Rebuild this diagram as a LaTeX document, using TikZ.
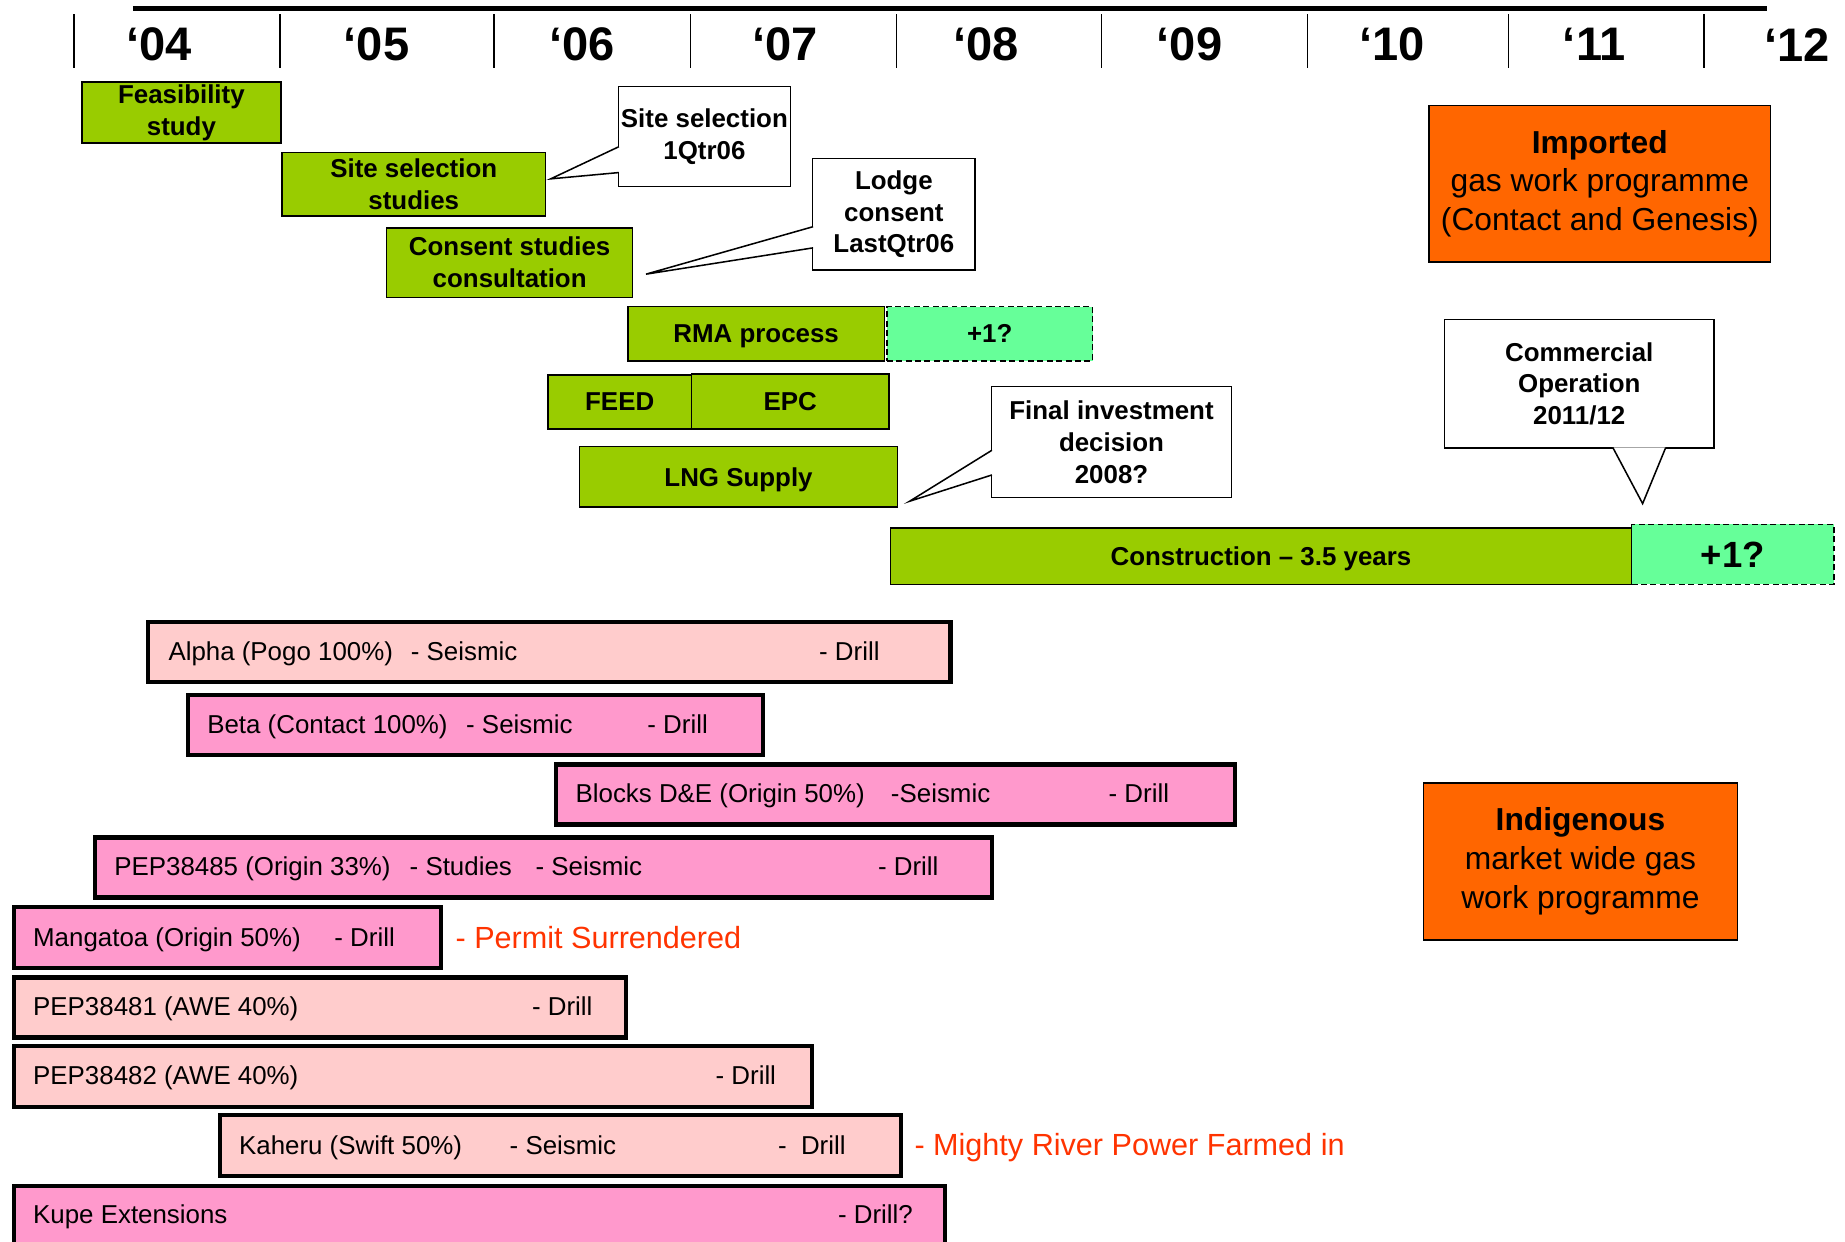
\documentclass[tikz,border=0pt]{standalone}
\usepackage{fontspec}
\setmainfont{Liberation Sans}
\usetikzlibrary{calc}

\definecolor{taskgreen}{HTML}{99CC00}
\definecolor{slipgreen}{HTML}{66FF99}
\definecolor{leasepink}{HTML}{FF99CC}
\definecolor{leaselight}{HTML}{FFCCCC}
\definecolor{progorange}{HTML}{FF6600}
\definecolor{notered}{HTML}{FF3300}

\tikzset{
    wh/.style 2 args = {minimum width=#1pt, minimum height=#2pt},
    task/.style = {draw, line width=1.3pt, fill=taskgreen, anchor=north west, inner sep=0pt,
        align=center, font=\bfseries\fontsize{22}{27}\selectfont},
    bar/.style = {task, text depth=0pt},
    slip/.style = {bar, fill=slipgreen, dash pattern=on 5pt off 3pt},
    note/.style = {draw, line width=1.3pt, fill=white, anchor=north west, inner sep=0pt,
        align=center, font=\bfseries\fontsize{22}{27}\selectfont},
    tail/.style = {line width=1.3pt, fill=white},
    prog/.style = {draw, line width=1.3pt, fill=progorange, anchor=north west, inner sep=0pt,
        align=center, font=\fontsize{27}{33}\selectfont},
    lease/.style = {draw, line width=3.5pt, fill=leasepink, anchor=north west, inner sep=0pt},
    leaselt/.style = {lease, fill=leaselight},
    ltext/.style = {anchor=base west, inner sep=0pt, font=\fontsize{22}{26}\selectfont},
    rednote/.style = {anchor=base west, inner sep=0pt, text=notered, font=\fontsize{26}{30}\selectfont}
}

\begin{document}
\begin{tikzpicture} [x = 1pt, y = -1pt]

    \useasboundingbox (0,0) rectangle (1568,1055);

    % time axis
    \draw [line width = 4pt] (113,7) -- (1502,7);
    \foreach \tx/\lx/\yr in {63/135/04, 238/320/05, 420/495/06, 587/667/07, 762/838/08,
                             936/1011/09, 1111/1183/10, 1282/1355/11, 1448/1527/12} {
        \draw [line width = 1.2pt] (\tx,12) -- (\tx,58);
        \node [font=\bfseries\fontsize{40}{44}\selectfont] (yr\yr) at (\lx,38) {‘\yr};
    }

    % LNG project tasks
    \node [task, wh={169}{52}] (feas) at (69,69) {Feasibility\\study};
    \node [task, wh={224}{54}] (sitestud) at (239,129) {Site selection\\studies};
    \node [task, wh={209}{59}] (consent) at (328,193) {Consent studies\\consultation};
    \node [bar, wh={218}{46}] (rma) at (533,260) {RMA process};
    \node [slip, wh={175}{46}] (rmaslip) at (753,260) {+1?};
    \node [bar, wh={122}{46}] (feed) at (465,318) {FEED};
    \node [bar, wh={168}{47}] (epc) at (587,317) {EPC};
    \node [bar, wh={270}{51}] (lng) at (492,379) {LNG Supply};
    \node [bar, wh={630}{48}] (constr) at (756,448) {Construction – 3.5 years};
    \node [slip, wh={172}{51}, font=\bfseries\fontsize{31}{36}\selectfont] (constrslip) at (1386,445) {+1?};

    % milestone notes
    \node [note, wh={146}{85}] (selnote) at (525,73) {Site selection\\1Qtr06};
    \coordinate (seltip) at (468,152);
    \draw [tail] ([xshift=1pt, yshift=-8.5pt]selnote.west) -- (seltip) -- ([xshift=1pt, yshift=-30.5pt]selnote.west);

    \node [note, wh={138}{95}] (lodgenote) at (690,134) {Lodge\\consent\\LastQtr06};
    \coordinate (lodgetip) at (549,233);
    \draw [tail] ([xshift=1pt, yshift=-10.5pt]lodgenote.west) -- (lodgetip) -- ([xshift=1pt, yshift=-28.5pt]lodgenote.west);

    \node [note, wh={204}{94}] (fidnote) at (842,328) {Final investment\\decision\\2008?};
    \coordinate (fidtip) at (773,426);
    \draw [tail] ([xshift=1pt, yshift=-7pt]fidnote.west) -- (fidtip) -- ([xshift=1pt, yshift=-28pt]fidnote.west);

    \node [note, wh={229}{109}] (opnote) at (1227,271) {Commercial\\Operation\\2011/12};
    \coordinate (optip) at (1396,428);
    \draw [tail] ([xshift=28.5pt, yshift=1pt]opnote.south) -- (optip) -- ([xshift=73.5pt, yshift=1pt]opnote.south);

    % gas programmes
    \node [prog, wh={290}{133}] (imported) at (1214,89) {\textbf{Imported}\\gas work programme\\(Contact and Genesis)};
    \node [prog, wh={267}{133}] (indig) at (1209,665) {\textbf{Indigenous}\\market wide gas\\work programme};

    % exploration permits
    \node [leaselt, wh={682}{51}] (alpha) at (124,527) {};
    \node [ltext] (alphaA) at (143,561) {Alpha (Pogo 100\%)};
    \node [ltext] (alphaB) at (349,561) {- Seismic};
    \node [ltext] (alphaC) at (696,561) {- Drill};

    \node [lease, wh={489}{51}] (beta) at (158,589) {};
    \node [ltext] (betaA) at (176,623) {Beta (Contact 100\%)};
    \node [ltext] (betaB) at (396,623) {- Seismic};
    \node [ltext] (betaC) at (550,623) {- Drill};

    \node [lease, wh={577}{51}] (blocks) at (471,648) {};
    \node [ltext] (blocksA) at (489,682) {Blocks D\&E (Origin 50\%)};
    \node [ltext] (blocksB) at (757,682) {-Seismic};
    \node [ltext] (blocksC) at (942,682) {- Drill};

    \node [lease, wh={762}{51}] (pepA) at (79,710) {};
    \node [ltext] (pepAa) at (97,744) {PEP38485 (Origin 33\%)};
    \node [ltext] (pepAb) at (348,744) {- Studies};
    \node [ltext] (pepAc) at (455,744) {- Seismic};
    \node [ltext] (pepAd) at (746,744) {- Drill};

    \node [lease, wh={363}{52}] (mang) at (10,769) {};
    \node [ltext] (mangA) at (28,804) {Mangatoa (Origin 50\%)};
    \node [ltext] (mangB) at (284,804) {- Drill};
    \node [rednote] (mangnote) at (387,806) {- Permit Surrendered};

    \node [leaselt, wh={520}{51}] (pepB) at (10,829) {};
    \node [ltext] (pepBa) at (28,863) {PEP38481 (AWE 40\%)};
    \node [ltext] (pepBb) at (452,863) {- Drill};

    \node [leaselt, wh={678}{52}] (pepC) at (10,887) {};
    \node [ltext] (pepCa) at (28,922) {PEP38482 (AWE 40\%)};
    \node [ltext] (pepCb) at (608,922) {- Drill};

    \node [leaselt, wh={579}{52}] (kaheru) at (185,946) {};
    \node [ltext] (kaheruA) at (203,981) {Kaheru (Swift 50\%)};
    \node [ltext] (kaheruB) at (433,981) {- Seismic};
    \node [ltext] (kaheruC) at (661,981) {-~ Drill};
    \node [rednote] (kaherunote) at (777,982) {- Mighty River Power Farmed in};

    \node [lease, wh={791}{54}] (kupe) at (10,1006) {};
    \node [ltext] (kupeA) at (28,1040) {Kupe Extensions};
    \node [ltext] (kupeB) at (712,1040) {- Drill?};

\end{tikzpicture}
\end{document}
